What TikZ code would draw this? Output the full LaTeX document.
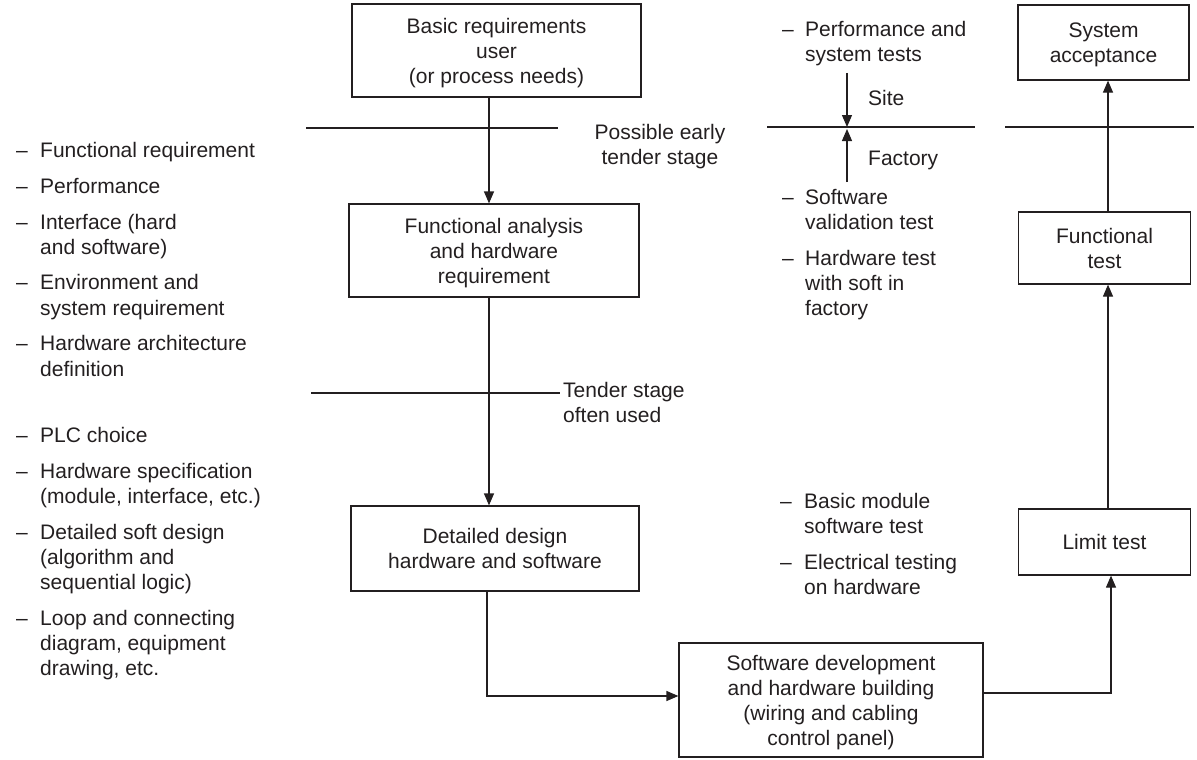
\documentclass[tikz,border=0pt]{standalone}
\usepackage{fontspec}
\setmainfont{Liberation Sans}
\usetikzlibrary{arrows.meta}
\definecolor{ink}{HTML}{231F20}

\begin{document}
\begin{tikzpicture}[x=1pt,y=-1pt,
  every node/.style={font=\fontsize{21}{25}\selectfont, text=ink, inner sep=0pt},
  box/.style={draw=ink, line width=1.2pt, align=center, text depth=0pt},
  line/.style={draw=ink, line width=1.2pt},
  arr/.style={line, -{Triangle[length=12pt,width=10pt]}}]

\useasboundingbox (0,0) rectangle (1197,760);

% ---- main flow boxes ----
\node[box, minimum width=289pt, minimum height=93pt] (basic) at (496.5,50.5)
  {Basic requirements\\user\\(or process needs)};
\node[box, minimum width=290pt, minimum height=93pt] (func) at (494,250.5)
  {Functional analysis\\and hardware\\requirement};
\node[box, minimum width=288pt, minimum height=85pt] (detail) at (495,548.5)
  {Detailed design\\hardware and software};
\node[box, minimum width=304pt, minimum height=114pt] (build) at (831,700)
  {Software development\\and hardware building\\(wiring and cabling\\control panel)};
\node[box, minimum width=172pt, minimum height=66pt] (limit) at (1104.5,542)
  {Limit test};
\node[box, minimum width=172pt, minimum height=72pt] (ftest) at (1104.5,248)
  {Functional\\test};
\node[box, minimum width=171pt, minimum height=75pt] (accept) at (1103.5,42.5)
  {System\\acceptance};

% ---- left-hand lists ----
\node[anchor=base west] (listA) at (16,157) {\begin{tabular}[t]{@{}p{24pt}@{}l@{}}
–&Functional requirement\\[11pt]
–&Performance\\[11pt]
–&Interface (hard\\
 &and software)\\[11pt]
–&Environment and\\
 &system requirement\\[11pt]
–&Hardware architecture\\
 &definition
\end{tabular}};

\node[anchor=base west] (listB) at (16,442) {\begin{tabular}[t]{@{}p{24pt}@{}l@{}}
–&PLC choice\\[11pt]
–&Hardware specification\\
 &(module, interface, etc.)\\[11pt]
–&Detailed soft design\\
 &(algorithm and\\
 &sequential logic)\\[11pt]
–&Loop and connecting\\
 &diagram, equipment\\
 &drawing, etc.
\end{tabular}};

% ---- test lists ----
\node[anchor=base west] (siteTests) at (782,37) {\begin{tabular}[t]{@{}p{23pt}@{}l@{}}
–&Performance and\\
 &system tests
\end{tabular}};

\node[anchor=base west] (factTests) at (782,204) {\begin{tabular}[t]{@{}p{23pt}@{}l@{}}
–&Software\\
 &validation test\\[11pt]
–&Hardware test\\
 &with soft in\\
 &factory
\end{tabular}};

\node[anchor=base west] (unitTests) at (780,508) {\begin{tabular}[t]{@{}p{24pt}@{}l@{}}
–&Basic module\\
 &software test\\[11pt]
–&Electrical testing\\
 &on hardware
\end{tabular}};

% ---- stage labels (base = last line) ----
\node[anchor=base, align=center] (early) at (660,164) {Possible early\\tender stage};
\node[anchor=base west, align=left] (tender) at (563,422) {Tender stage\\often used};
\node[anchor=base west] (site) at (868,106) {Site};
\node[anchor=base west] (factory) at (868,165) {Factory};

% ---- stage separator lines ----
\coordinate (s1a) at (306,128);
\coordinate (s1b) at (558,128);
\coordinate (s2a) at (767,127);
\coordinate (s2b) at (975,127);
\coordinate (s3a) at (1005,127);
\coordinate (s3b) at (1194,127);
\coordinate (t1a) at (311,393);
\coordinate (t1b) at (560,393);
\draw[line] (s1a) -- (s1b);
\draw[line] (s2a) -- (s2b);
\draw[line] (s3a) -- (s3b);
\draw[line] (t1a) -- (t1b);

% site / factory arrows
\coordinate (siteTop) at (847,73);
\coordinate (siteTip) at (847,127);
\coordinate (factBot) at (847,182);
\coordinate (factTip) at (847,129);
\draw[arr] (siteTop) -- (siteTip);
\draw[arr] (factBot) -- (factTip);

% ---- flow connectors ----
\coordinate (xa) at (489,0);
\coordinate (xb) at (487,0);
\coordinate (yb) at (0,696);
\coordinate (xc) at (1111,0);
\coordinate (yc) at (0,693);
\coordinate (xd) at (1108,0);
\draw[arr] (basic.south -| xa) -- (func.north -| xa);
\draw[arr] (func.south -| xa) -- (detail.north -| xa);
\draw[arr] (detail.south -| xb) |- (build.west |- yb);
\draw[arr] (build.east |- yc) -| (limit.south -| xc);
\draw[arr] (limit.north -| xd) -- (ftest.south -| xd);
\draw[arr] (ftest.north -| xd) -- (accept.south -| xd);

\end{tikzpicture}
\end{document}
